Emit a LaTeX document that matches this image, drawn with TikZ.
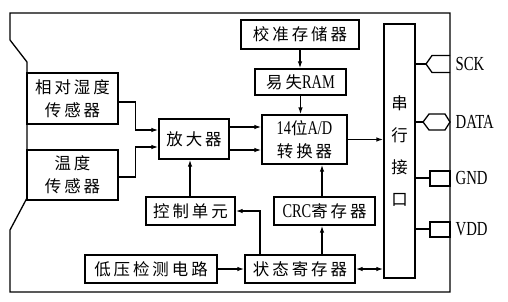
\documentclass[tikz,border=0pt]{standalone}
\usepackage{fontspec}
\setmainfont{Liberation Serif}
\newfontfamily\cjk[LetterSpace=18]{Noto Sans CJK SC}
\usetikzlibrary{arrows.meta}
\newcommand\narrowtxt[1]{\scalebox{0.74}[1]{#1}}
\newcommand\lat[1]{{\rmfamily\fontsize{19.5}{23}\selectfont\narrowtxt{#1}}}

\begin{document}
\begin{tikzpicture}[x=1bp, y=-1bp, line width=1.3bp, >={Latex[length=7bp,width=4.5bp]},
    blk/.style={draw, inner sep=0pt, align=center, font=\cjk\fontsize{16.5}{23}\selectfont},
    pinlbl/.style={anchor=west, inner sep=0pt, font=\fontsize{20}{20}\selectfont}]
    \useasboundingbox (0,0) rectangle (508,301);
    % outer frame
    \draw (450,13) -- (10,13) -- (10,40) -- (27,62) -- (27,198) -- (10,230) -- (10,292) -- (450,292) -- cycle;
    % blocks
    \node[blk, minimum width=91bp, minimum height=51bp] (hum) at (72.5,98.5) {相对湿度\\传感器};
    \node[blk, minimum width=91bp, minimum height=50bp] (temp) at (72.5,175) {温度\\传感器};
    \node[blk, minimum width=70bp, minimum height=40bp] (amp) at (194,139) {放大器};
    \node[blk, minimum width=118bp, minimum height=29bp] (cal) at (300,34.5) {校准存储器};
    \node[blk, minimum width=91bp, minimum height=26bp] (ram) at (300.5,82) {易失\lat{RAM}};
    \node[blk, minimum width=85bp, minimum height=49bp] (adc) at (304.5,139.5) {\lat{14}位\lat{A/D}\\转换器};
    \node[blk, minimum width=89bp, minimum height=28bp] (ctrl) at (190.5,211) {控制单元};
    \node[blk, minimum width=101bp, minimum height=28bp] (crc) at (324.5,211) {\lat{CRC}寄存器};
    \node[blk, minimum width=132bp, minimum height=28bp] (lvd) at (151,269) {低压检测电路};
    \node[blk, minimum width=110bp, minimum height=28bp] (stat) at (300,269) {状态寄存器};
    \node[blk, minimum width=31bp, minimum height=254bp, font=\cjk\fontsize{16.5}{32}\selectfont] (ser) at (399.5,151) {串\\行\\接\\口};
    % connections
    \draw[->] ([yshift=-3.5bp]hum.east) -- ++(17,0) |- ([yshift=9bp]amp.west);
    \draw[->] ([yshift=-2bp]temp.east) -- ++(17,0) |- ([yshift=-8bp]amp.west);
    \draw[->] ([yshift=12bp]amp.east) -- ([yshift=12bp]amp.east -| adc.west);
    \draw[->] ([yshift=-11bp]amp.east) -- ([yshift=-11bp]amp.east -| adc.west);
    \draw[->] ([xshift=-0.5bp]ctrl.north) -- ([xshift=-0.5bp]ctrl.north |- amp.south);
    \draw[->] (cal.south) -- (cal.south |- ram.north);
    \draw[->] (ram.south) -- (ram.south |- adc.north);
    \draw[->] (adc.east) -- (adc.east -| ser.west);
    \draw[->] ([xshift=-2.5bp]crc.north) -- ([xshift=-2.5bp]crc.north |- adc.south);
    \draw[->] ([xshift=-2.5bp]crc.south |- stat.north) -- ([xshift=-2.5bp]crc.south);
    \draw[->] ([xshift=-40bp]stat.north) |- (ctrl.east);
    \draw[->] (lvd.east) -- (stat.west);
    \draw[<->] (stat.east) -- (stat.east -| ser.west);
    % pins
    \node[pinlbl] (sck) at (455,64) {\narrowtxt{SCK}};
    \node[pinlbl] (data) at (455,122) {\narrowtxt{DATA}};
    \node[pinlbl] (gnd) at (455,178) {\narrowtxt{GND}};
    \node[pinlbl] (vdd) at (455,229) {\narrowtxt{VDD}};
    \draw (ser.east |- sck.west) -- (426,64);
    \draw (450,55.5) -- (432,55.5) -- (426,64) -- (432,72.5) -- (450,72.5);
    \draw (ser.east |- data.west) -- (423,122);
    \draw (423,122) -- (429,114) -- (445,114) -- (450,122) -- (445,130) -- (429,130) -- cycle;
    \draw (ser.east |- gnd.west) -- (430,178);
    \draw (430,171) rectangle (450,186);
    \draw (ser.east |- vdd.west) -- (430,229);
    \draw (430,222) rectangle (450,237);
\end{tikzpicture}
\end{document}
